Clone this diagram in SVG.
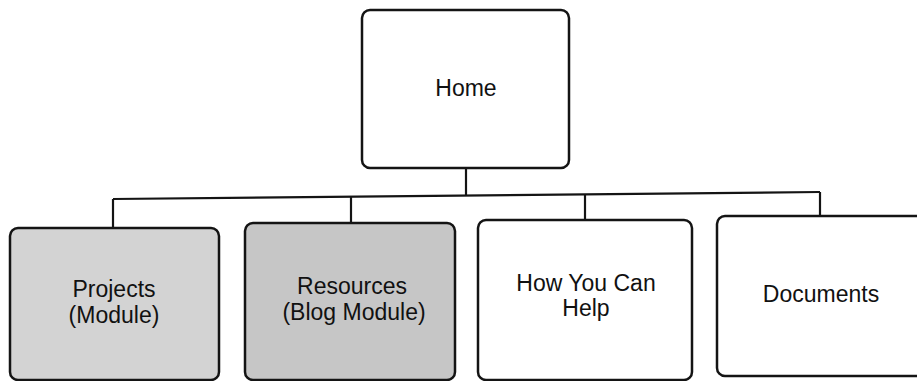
<svg xmlns="http://www.w3.org/2000/svg" width="917" height="381" viewBox="0 0 917 381">
<style>
.box{stroke:#141414;stroke-width:2.5;fill:#ffffff}
.g1{fill:#d3d3d3}
.g2{fill:#c6c6c6}
.lbl{font-family:"Liberation Sans",Arial,sans-serif;font-size:23px;fill:#111111;text-anchor:middle}
.conn{stroke:#141414;stroke-width:2.2;fill:none}
</style>
<rect width="917" height="381" fill="#ffffff"/>
<g id="connectors">
<path class="conn" d="M466,168 L466,195.5"/>
<path class="conn" d="M113,199 L820,192"/>
<path class="conn" d="M113,199 L113,228"/>
<path class="conn" d="M351,196.6 L351,223"/>
<path class="conn" d="M585,194.3 L585,220"/>
<path class="conn" d="M820,192 L820,216"/>
</g>
<g id="home">
<rect class="box" x="362" y="10" width="207" height="158" rx="8"/>
<text class="lbl" x="466" y="96">Home</text>
</g>
<g id="projects">
<rect class="box g1" x="10" y="228" width="209" height="152" rx="8"/>
<text class="lbl" x="114" y="297">Projects</text>
<text class="lbl" x="114" y="323">(Module)</text>
</g>
<g id="resources">
<rect class="box g2" x="245" y="223" width="210" height="157" rx="8"/>
<text class="lbl" x="352" y="294">Resources</text>
<text class="lbl" x="354" y="320">(Blog Module)</text>
</g>
<g id="help">
<rect class="box" x="478" y="220" width="214" height="160" rx="8"/>
<text class="lbl" x="586" y="291">How You Can</text>
<text class="lbl" x="586" y="316">Help</text>
</g>
<g id="documents">
<rect class="box" x="717" y="216" width="220" height="160" rx="8"/>
<text class="lbl" x="821" y="302">Documents</text>
</g>
</svg>
